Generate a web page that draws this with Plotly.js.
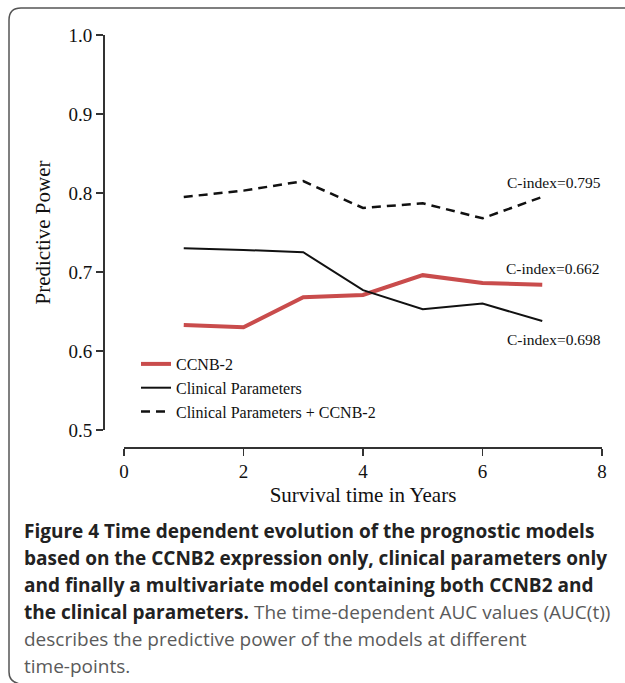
<!DOCTYPE html>
<html>
<head>
<meta charset="utf-8">
<script src="https://cdn.plot.ly/plotly-3.0.1.min.js"></script>
<style>
  html, body { margin: 0; padding: 0; background: #ffffff; }
  #chart { width: 625px; height: 683px; }
</style>
</head>
<body>
<div id="chart"></div>
<script>
// ---- data ----
const years = [1, 2, 3, 4, 5, 6, 7];
const ccnb2 = [0.633, 0.630, 0.668, 0.671, 0.696, 0.686, 0.684];
const clinical = [0.730, 0.728, 0.725, 0.677, 0.653, 0.660, 0.638];
const combined = [0.795, 0.803, 0.815, 0.781, 0.787, 0.768, 0.795];
const seriesNames = ['CCNB-2', 'Clinical Parameters', 'Clinical Parameters + CCNB-2'];
const cIndexLabels = ['C-index=0.795', 'C-index=0.662', 'C-index=0.698'];
const xTickVals = [0, 2, 4, 6, 8];
const yTickVals = [0.5, 0.6, 0.7, 0.8, 0.9, 1.0];
const captionLines = [
  '<b>Figure 4 Time dependent evolution of the prognostic models</b>',
  '<b>based on the CCNB2 expression only, clinical parameters only</b>',
  '<b>and finally a multivariate model containing both CCNB2 and</b>',
  '<b>the clinical parameters.</b> <span style="color:#5a5a5a">The time-dependent AUC values (AUC(t))</span>',
  '<span style="color:#5a5a5a">describes the predictive power of the models at different</span>',
  '<span style="color:#5a5a5a">time-points.</span>'
];

// ---- layout helpers (pixel -> paper fraction) ----
const W = 625, H = 683;
const px = v => v / W;
const py = v => (H - v) / H;

const serif = 'Liberation Serif, Times New Roman, serif';

const traces = [
  {
    x: years, y: ccnb2, name: seriesNames[0], type: 'scatter', mode: 'lines',
    line: { color: '#c94c4c', width: 4 }
  },
  {
    x: years, y: clinical, name: seriesNames[1], type: 'scatter', mode: 'lines',
    line: { color: '#111111', width: 2 }
  },
  {
    x: years, y: combined, name: seriesNames[2], type: 'scatter', mode: 'lines',
    line: { color: '#111111', width: 2.5, dash: '9px,6px' }
  }
];

const last = arr => arr[arr.length - 1];
const annotations = [
  { x: 7.2, y: last(combined) + 0.018, text: cIndexLabels[0] },
  { x: 7.18, y: last(ccnb2) + 0.021, text: cIndexLabels[1] },
  { x: 7.2, y: last(clinical) - 0.024, text: cIndexLabels[2] }
].map(a => Object.assign(a, {
  xref: 'x', yref: 'y', showarrow: false, xanchor: 'center', yanchor: 'middle',
  font: { family: serif, size: 15.5, color: '#111' }
}));

const captionTop = 531, captionStep = 27;
captionLines.forEach((t, i) => {
  annotations.push({
    xref: 'paper', yref: 'paper', x: px(22), y: py(captionTop + i * captionStep),
    xanchor: 'left', yanchor: 'middle', showarrow: false, align: 'left',
    text: t, font: { family: 'Open Sans, Noto Sans, sans-serif', size: 19, color: '#222' }
  });
});

// frame (rounded left corners)
const framePath = [
  'M', px(626), ',', py(8),
  ' L', px(21), ',', py(8),
  ' Q', px(9), ',', py(8), ' ', px(9), ',', py(20),
  ' L', px(9), ',', py(672),
  ' Q', px(9), ',', py(682), ' ', px(20), ',', py(684)
].join('');

const layout = {
  width: W, height: H,
  margin: { l: 0, r: 0, t: 0, b: 0 },
  paper_bgcolor: '#ffffff', plot_bgcolor: '#ffffff',
  showlegend: true,
  legend: {
    x: px(136), y: py(347), xanchor: 'left', yanchor: 'top',
    bgcolor: 'rgba(0,0,0,0)', borderwidth: 0,
    font: { family: serif, size: 16, color: '#111' }
  },
  xaxis: {
    domain: [px(124), px(602)], range: [0, 8],
    anchor: 'free', position: py(447),
    showline: true, linecolor: '#333', linewidth: 1.5,
    ticks: 'outside', ticklen: 7, tickwidth: 1.5, tickcolor: '#333',
    tickmode: 'array', tickvals: xTickVals,
    showgrid: false, zeroline: false,
    tickfont: { family: serif, size: 19, color: '#111' },
    title: { text: 'Survival time in Years', font: { family: serif, size: 21, color: '#111' }, standoff: 6 }
  },
  yaxis: {
    domain: [py(430), py(35)], range: [0.5, 1.0],
    anchor: 'free', position: px(103),
    showline: true, linecolor: '#333', linewidth: 1.5,
    ticks: 'outside', ticklen: 7, tickwidth: 1.5, tickcolor: '#333',
    tickmode: 'array', tickvals: yTickVals, tickformat: '.1f',
    showgrid: false, zeroline: false,
    tickfont: { family: serif, size: 19, color: '#111' },
    title: { text: 'Predictive Power', font: { family: serif, size: 21, color: '#111' }, standoff: 10 }
  },
  annotations: annotations,
  shapes: [{
    type: 'path', xref: 'paper', yref: 'paper', path: framePath,
    line: { color: '#555', width: 1.5 }
  }]
};

Plotly.newPlot('chart', traces, layout, { displayModeBar: false, staticPlot: true });
</script>
</body>
</html>
